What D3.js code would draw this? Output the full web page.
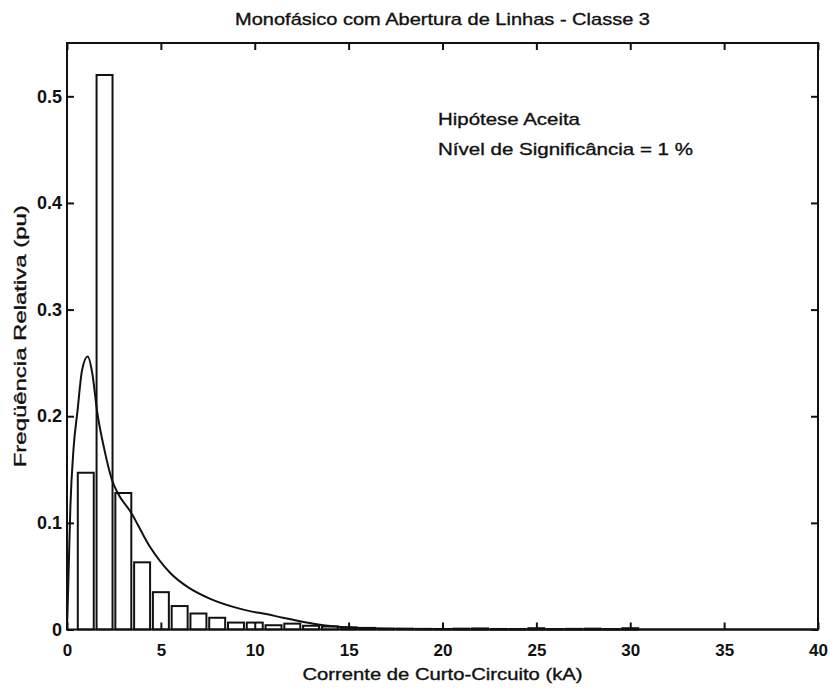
<!DOCTYPE html>
<html>
<head>
<meta charset="utf-8">
<script src="https://cdn.jsdelivr.net/npm/d3@7"></script>
<style>
  body { margin: 0; background: #fff; }
  svg text { font-family: "Liberation Sans", Arial, Helvetica, sans-serif; fill: #111; }
  .plain { stroke: #111; stroke-width: 0.35px; }
</style>
</head>
<body>
<div id="chart"></div>
<script>
// histogram bins (centre of bin, kA) and relative frequency (pu)
const binCenters = d3.range(1, 31);
const freqs = [0.147, 0.520, 0.128, 0.063, 0.035, 0.022, 0.015, 0.011, 0.0065, 0.0065,
               0.004, 0.0055, 0.0035, 0.0028, 0.002, 0.0015, 0.0008, 0.0008, 0.0006, 0.0005,
               0.0008, 0.001, 0.0005, 0.0004, 0.0012, 0.0004, 0.0006, 0.0008, 0.0004, 0.0012];

// fitted density curve
const curveX = [0, 0.08, 0.18, 0.35, 0.56, 0.8, 1.1, 1.35, 1.6, 2.0, 2.4, 2.7, 3.4, 4.4, 5.5,
                6.5, 7.6, 8.9, 9.8, 10.6, 11.5, 12.4, 13.3, 14.2, 15.1, 16.5, 18, 20, 25, 40];
const curveY = [0, 0.05, 0.115, 0.17, 0.205, 0.243, 0.256, 0.24, 0.205, 0.168, 0.14, 0.128, 0.11, 0.078, 0.053,
                0.039, 0.029, 0.021, 0.017, 0.0145, 0.011, 0.0078, 0.005, 0.003, 0.0018, 0.0009, 0.0004, 0.0002, 0, 0];

const xTicks = [0, 5, 10, 15, 20, 25, 30, 35, 40];
const yTicks = [0, 0.1, 0.2, 0.3, 0.4, 0.5];

const title = "Monofásico com Abertura de Linhas - Classe 3";
const xLabel = "Corrente de Curto-Circuito (kA)";
const yLabel = "Freqüência Relativa (pu)";
const notes = ["Hipótese Aceita", "Nível de Significância = 1 %"];

const width = 832, height = 689;
const margin = {top: 43, right: 14, bottom: 59.5, left: 67};
const innerWidth = width - margin.left - margin.right;
const innerHeight = height - margin.top - margin.bottom;
const barWidth = 0.85;

const svg = d3.select("#chart").append("svg")
  .attr("width", width)
  .attr("height", height);

const g = svg.append("g")
  .attr("transform", `translate(${margin.left},${margin.top})`);

const x = d3.scaleLinear().domain([0, 40]).range([0, innerWidth]);
const y = d3.scaleLinear().domain([0, 0.55]).range([innerHeight, 0]);

// bars
g.selectAll(".bar")
  .data(binCenters)
  .enter().append("rect")
  .attr("class", "bar")
  .attr("x", (c) => x(c - barWidth / 2))
  .attr("width", x(barWidth) - x(0))
  .attr("y", (c, i) => y(freqs[i]))
  .attr("height", (c, i) => innerHeight - y(freqs[i]))
  .style("fill", "none")
  .style("stroke", "#111")
  .style("stroke-width", 2);

// curve
const line = d3.line()
  .x((d) => x(d[0]))
  .y((d) => y(d[1]))
  .curve(d3.curveMonotoneX);

g.append("path")
  .datum(curveX.map((v, i) => [v, curveY[i]]))
  .attr("d", line)
  .style("fill", "none")
  .style("stroke", "#111")
  .style("stroke-width", 2);

// axes, ticks drawn inward on all four sides
const tickLen = 7;
const xAxis = d3.axisBottom(x).tickValues(xTicks).tickSizeInner(-tickLen).tickSizeOuter(0).tickPadding(10).tickFormat(d3.format("d"));
const yAxis = d3.axisLeft(y).tickValues(yTicks).tickSizeInner(-tickLen).tickSizeOuter(0).tickPadding(5).tickFormat((d) => d === 0 ? "0" : d3.format(".1f")(d));
const xTop = d3.axisTop(x).tickValues(xTicks).tickSizeInner(-tickLen).tickSizeOuter(0);
const yRight = d3.axisRight(y).tickValues(yTicks).tickSizeInner(-tickLen).tickSizeOuter(0);

const gX = g.append("g").attr("transform", `translate(0,${innerHeight})`).call(xAxis);
const gY = g.append("g").call(yAxis);
const gTop = g.append("g").call(xTop);
const gRight = g.append("g").attr("transform", `translate(${innerWidth},0)`).call(yRight);
gTop.selectAll("text").remove();
gRight.selectAll("text").remove();

g.selectAll(".domain").remove();
g.selectAll(".tick line").style("stroke", "#111").style("stroke-width", 2);
g.selectAll(".tick text")
  .style("font-weight", "bold")
  .style("fill", "#111");
gX.selectAll(".tick text").style("font-size", "17px").attr("dy", "0.95em");
gY.selectAll(".tick text").style("font-size", "18px");

// box
g.append("rect")
  .attr("width", innerWidth)
  .attr("height", innerHeight)
  .style("fill", "none")
  .style("stroke", "#111")
  .style("stroke-width", 2);

// texts
svg.append("text")
  .attr("class", "plain")
  .attr("x", margin.left + innerWidth / 2)
  .attr("y", 25)
  .attr("text-anchor", "middle")
  .attr("textLength", 415)
  .attr("lengthAdjust", "spacingAndGlyphs")
  .style("font-size", "17px")
  .text(title);

svg.append("text")
  .attr("class", "plain")
  .attr("x", margin.left + innerWidth / 2)
  .attr("y", 680)
  .attr("text-anchor", "middle")
  .attr("textLength", 280)
  .attr("lengthAdjust", "spacingAndGlyphs")
  .style("font-size", "16px")
  .text(xLabel);

svg.append("text")
  .attr("class", "plain")
  .attr("transform", `translate(26,${margin.top + innerHeight / 2}) rotate(-90)`)
  .attr("text-anchor", "middle")
  .attr("textLength", 262)
  .attr("lengthAdjust", "spacingAndGlyphs")
  .style("font-size", "17px")
  .style("fill", "#111")
  .text(yLabel);

svg.selectAll(".note")
  .data(notes)
  .enter().append("text")
  .attr("class", "note plain")
  .attr("x", 438)
  .attr("y", (d, i) => 125 + i * 30)
  .attr("textLength", (d, i) => i === 0 ? 142 : 255)
  .attr("lengthAdjust", "spacingAndGlyphs")
  .style("font-size", "17px")
  .text((d) => d);
</script>
</body>
</html>
